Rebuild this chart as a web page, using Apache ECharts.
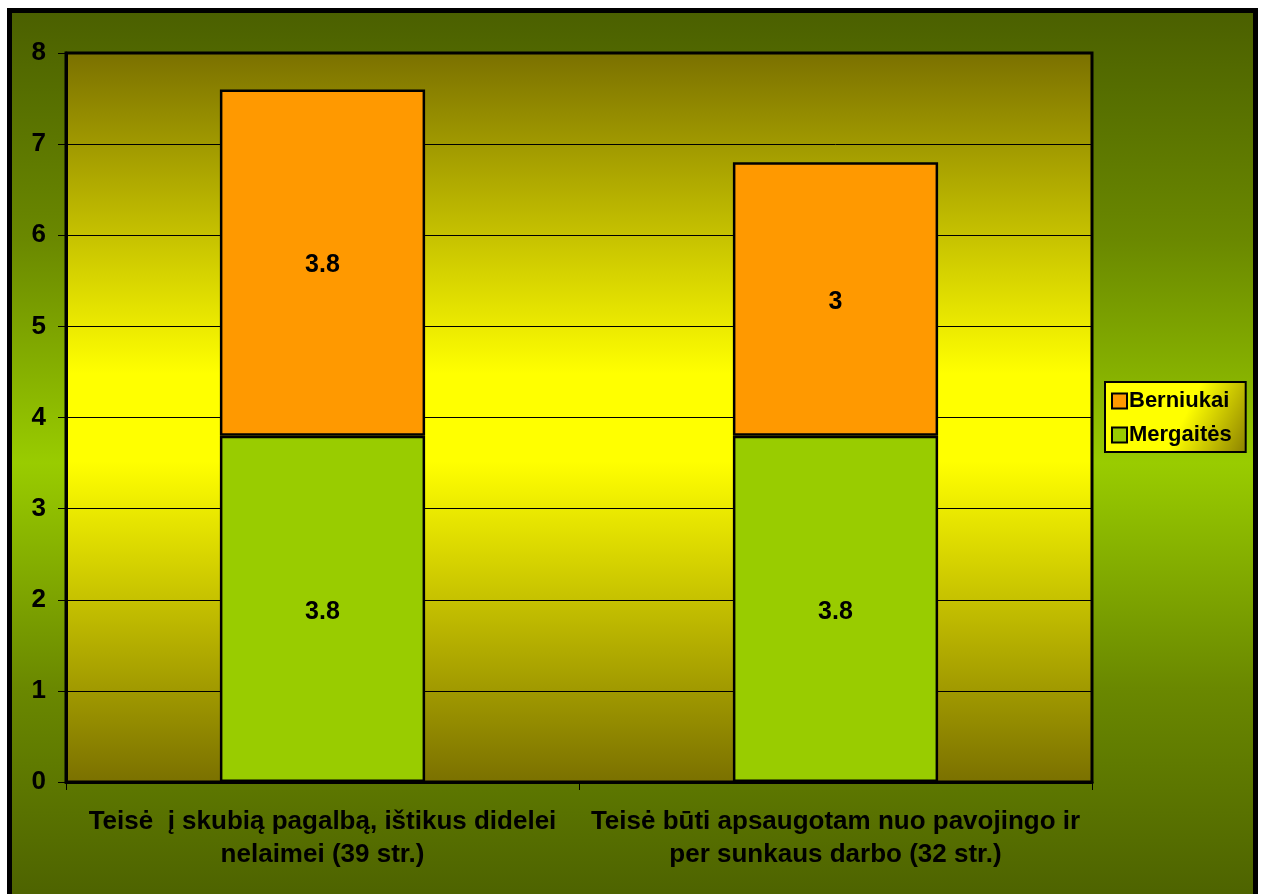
<!DOCTYPE html>
<html>
<head>
<meta charset="utf-8">
<script src="https://cdn.jsdelivr.net/npm/echarts@6/dist/echarts.min.js"></script>
<style>
  html, body { margin: 0; padding: 0; background: #ffffff; }
  #frame {
    position: absolute; left: 7px; top: 8px; width: 1241px; height: 900px;
    border: 5px solid #000;
    background: linear-gradient(to bottom, #4b6000 0%, #6a8800 25%, #99cc00 50%, #6a8800 75%, #4b6000 100%);
  }
  #chart { position: absolute; left: 0; top: 0; width: 1266px; height: 894px; }
</style>
</head>
<body>
<div id="frame"></div>
<div id="chart"></div>
<script>
const categories = [
  'Teisė  į skubią pagalbą, ištikus didelei\nnelaimei (39 str.)',
  'Teisė būti apsaugotam nuo pavojingo ir\nper sunkaus darbo (32 str.)'
];
const mergaites = [3.8, 3.8];
const berniukai = [3.8, 3];
const seriesNames = ['Mergaitės', 'Berniukai'];
const yTicks = { min: 0, max: 8, interval: 1 };

const FONT = 'Arial, "Liberation Sans", sans-serif';
const chart = echarts.init(document.getElementById('chart'), null, { renderer: 'canvas' });

const labelStyle = {
  show: true, position: 'inside', color: '#000', fontWeight: 'bold',
  fontSize: 25, fontFamily: FONT, offset: [0, 3]
};

chart.setOption({
  backgroundColor: 'transparent',
  animation: false,
  grid: {
    left: 66, right: 174, top: 53, bottom: 112,
    show: true,
    borderColor: '#000', borderWidth: 3,
    backgroundColor: {
      type: 'linear', x: 0, y: 0, x2: 0, y2: 1,
      colorStops: [
        { offset: 0, color: '#7a7000' },
        { offset: 0.44, color: '#ffff00' },
        { offset: 0.56, color: '#ffff00' },
        { offset: 1, color: '#7a7000' }
      ]
    }
  },
  legend: {
    data: ['Berniukai', 'Mergaitės'],
    orient: 'vertical',
    left: 1105, top: 382,
    padding: [8, 14, 6, 6],
    itemGap: 12,
    itemWidth: 15, itemHeight: 15,
    icon: 'rect',
    borderColor: '#000', borderWidth: 2,
    backgroundColor: {
      type: 'linear', x: 0, y: 0, x2: 1, y2: 1,
      colorStops: [
        { offset: 0, color: '#ffff00' },
        { offset: 0.55, color: '#ffff00' },
        { offset: 1, color: '#8a8000' }
      ]
    },
    itemStyle: { borderColor: '#000', borderWidth: 2 },
    textStyle: { color: '#000', fontWeight: 'bold', fontSize: 22, fontFamily: FONT, padding: [0, 0, 0, -3] }
  },
  xAxis: {
    type: 'category',
    data: categories,
    axisLine: { show: true, lineStyle: { color: '#000', width: 3 } },
    axisTick: { show: true, alignWithLabel: false, length: 8, lineStyle: { color: '#000', width: 1 } },
    axisLabel: {
      color: '#000', fontWeight: 'bold', fontSize: 26, fontFamily: FONT,
      lineHeight: 33, margin: 23, interval: 0
    }
  },
  yAxis: {
    type: 'value',
    min: yTicks.min, max: yTicks.max, interval: yTicks.interval,
    axisLine: { show: true, lineStyle: { color: '#000', width: 3 } },
    axisTick: { show: true, length: 8, lineStyle: { color: '#000', width: 1 } },
    axisLabel: { color: '#000', fontWeight: 'bold', fontSize: 26, fontFamily: FONT, margin: 20 },
    splitLine: { show: true, lineStyle: { color: '#000', width: 1 } }
  },
  series: [
    {
      name: seriesNames[0], type: 'bar', stack: 'total', data: mergaites,
      barWidth: '40%',
      itemStyle: { color: '#99cc00', borderColor: '#000', borderWidth: 2.5 },
      label: labelStyle
    },
    {
      name: seriesNames[1], type: 'bar', stack: 'total', data: berniukai,
      barWidth: '40%',
      itemStyle: { color: '#ff9900', borderColor: '#000', borderWidth: 2.5 },
      label: labelStyle
    }
  ]
});
</script>
</body>
</html>
